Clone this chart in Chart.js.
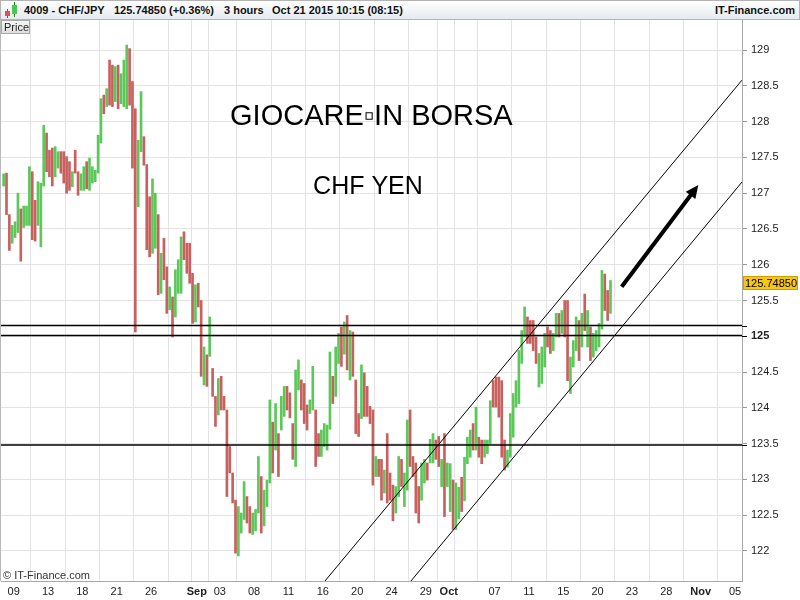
<!DOCTYPE html>
<html><head><meta charset="utf-8">
<script src="https://cdn.jsdelivr.net/npm/chart.js@4"></script>
<style>
html,body{margin:0;padding:0;background:#fff;}
#wrap{position:relative;width:800px;height:600px;overflow:hidden;font-family:"Liberation Sans",Arial,sans-serif;}
canvas{position:absolute;left:0;top:0;}
#hdr{position:absolute;left:0;top:0;width:798px;height:18px;border:1px solid #b4b4b4;background:linear-gradient(#ffffff,#e6eaee);}
#hdr span{position:absolute;top:3px;font-weight:bold;font-size:11px;color:#111;white-space:nowrap;}
.cdl{position:absolute;}
#price{position:absolute;left:1px;top:20px;width:25px;height:12px;border:1px solid #a8a8a8;background:linear-gradient(#f6f6f6,#dedede);font-size:11px;line-height:12px;color:#222;padding-left:2px;}
#copy{position:absolute;left:3px;top:569px;font-size:11px;color:#333;}
#lb{position:absolute;left:0;top:20px;width:1px;height:561px;background:#b8b8b8;}
</style></head>
<body><div id="wrap">
<canvas id="c" width="800" height="600"></canvas>
<div id="lb"></div>
<div id="hdr">
  <div class="cdl" style="left:6px;top:8px;width:1px;height:9px;background:#b33;"></div>
  <div class="cdl" style="left:4px;top:10px;width:5px;height:5px;background:#e05050;"></div>
  <div class="cdl" style="left:13px;top:1px;width:1px;height:15px;background:#282;"></div>
  <div class="cdl" style="left:11px;top:4px;width:5px;height:9px;background:#4cc84c;"></div>
  <span style="left:23px">4009 - CHF/JPY</span>
  <span style="left:113px">125.74850 (+0.36%)</span>
  <span style="left:223px">3 hours</span>
  <span style="left:271px">Oct 21 2015 10:15 (08:15)</span>
  <span style="right:4px">IT-Finance.com</span>
</div>
<div id="price">Price</div>
<div id="copy">© IT-Finance.com</div>
</div>
<script>
// ---- data ----
const barsPerDay = 4;          // 6-hour bars, trading-day units on x
const firstDay = -1;           // Fri Aug 7 (day 0 = Mon Aug 10)
const highs = [
127.27,127.28,126.70,126.55,126.60,127.00,126.78,126.82,126.82,127.37,
127.30,126.90,127.16,127.14,127.95,127.84,127.60,127.63,127.65,127.58,
127.58,127.58,127.51,127.44,127.30,127.60,127.30,127.27,127.37,127.44,
127.49,127.37,127.32,127.81,128.32,128.37,128.46,128.86,128.79,128.77,
128.79,128.67,128.86,129.07,129.02,128.56,128.18,127.74,128.42,127.79,
127.40,126.95,127.20,127.00,126.70,126.16,126.37,125.97,125.69,125.55,
125.93,126.07,126.39,126.46,126.30,126.30,125.88,125.72,125.74,125.50,
124.85,124.74,125.27,124.55,124.16,124.41,124.44,124.16,123.97,123.46,
123.09,122.71,122.62,122.53,122.97,122.76,122.62,122.53,122.58,123.32,
123.04,122.85,122.99,124.11,123.80,124.06,123.64,124.16,124.30,124.30,
124.21,123.78,124.53,124.67,124.39,124.34,124.04,124.11,124.58,123.97,
123.64,123.69,123.78,123.76,124.78,124.44,124.85,125.04,125.13,125.20,
125.29,125.08,125.06,124.39,123.92,124.60,124.49,124.30,124.02,123.97,
123.32,123.28,123.28,123.13,123.64,123.09,122.92,122.90,123.32,123.28,
123.09,123.83,123.97,123.32,123.23,122.90,123.23,123.28,123.23,123.56,
123.64,123.55,123.60,123.28,123.64,123.23,123.22,122.99,122.95,122.89,
123.03,123.31,123.59,123.69,123.78,124.01,123.59,123.55,123.55,123.55,
124.10,124.38,124.43,124.43,124.38,123.55,123.41,123.92,124.20,124.38,
124.80,125.08,125.41,125.27,125.22,125.22,124.99,124.76,124.85,125.04,
125.13,125.08,125.04,125.32,125.32,125.36,125.50,125.50,124.71,124.94,
125.27,125.22,125.32,125.59,125.36,125.13,125.04,125.08,125.18,125.92,
125.87,125.64,125.78];
const lows = [
127.10,126.70,126.20,126.30,126.38,126.45,126.05,126.52,126.55,126.55,
126.35,126.33,126.55,126.25,127.10,127.30,127.23,127.10,127.23,127.35,
127.28,127.14,127.00,127.04,127.09,127.28,126.97,127.04,127.04,127.06,
127.04,127.14,127.16,127.28,127.70,128.11,128.21,128.23,128.21,128.28,
128.18,128.25,128.21,128.18,128.23,127.35,125.06,126.81,127.58,127.39,
126.21,126.11,126.16,126.23,125.58,125.60,125.79,125.32,125.37,124.99,
125.27,125.60,125.60,126.07,125.88,125.74,125.18,125.20,125.41,124.44,
124.32,124.30,124.72,124.16,123.74,123.90,123.97,123.97,122.76,123.09,
122.67,121.97,121.93,122.25,122.44,122.39,122.25,122.23,122.28,122.53,
122.25,122.35,122.62,122.95,123.09,123.41,123.04,123.69,123.88,123.97,
123.86,123.28,123.18,124.25,123.97,123.78,123.69,123.92,123.97,123.18,
123.32,123.32,123.46,123.41,123.70,124.06,124.16,124.62,124.58,124.75,
124.53,124.39,124.44,123.64,123.60,123.85,123.88,123.88,123.78,122.92,
123.04,123.04,122.71,122.81,122.67,122.71,122.42,122.53,122.76,122.90,
122.62,122.85,123.18,123.04,122.53,122.39,122.71,122.95,122.99,123.23,
123.23,123.28,123.18,122.90,122.48,122.90,122.55,122.30,122.30,122.45,
122.55,122.70,123.22,123.31,123.41,123.41,123.31,123.22,123.31,123.36,
123.50,124.01,124.01,123.87,123.31,123.13,123.17,123.31,123.59,124.01,
124.06,124.62,124.99,124.90,124.90,124.80,124.62,124.29,124.34,124.57,
124.85,124.76,124.80,124.99,124.99,125.04,124.99,124.38,124.20,124.57,
124.80,124.66,124.85,125.08,124.85,124.66,124.71,124.80,124.85,125.10,
125.36,125.22,125.32];
const barDirection =
 "udduuuduuu"+"dduuuddduu"+"ddddudduud"+"uuuuududdu"+"duuuddduud"+
 "dduududdud"+"uuuddddudd"+"ududdudddd"+"dduuudduuu"+"duuududuud"+
 "dduuddduud"+"duuuuduudu"+"dudddudddd"+"udduddduud"+"uudddduudu"+
 "udduduuduu"+"duuududduu"+"uddddduuuu"+"uuudddduuu"+"dduududduu"+
 "udududuuuu"+"ddu";
const levels = [125.15, 125.01, 123.48];
const upperChannel = [[27.19, 121.58], [63.61, 128.58]];
const lowerChannel = [[34.70, 121.58], [63.61, 127.156]];
const trendArrow = [[53.10, 125.693], [59.80, 127.114]];
const lastPrice = 125.7485;
const lastPriceLabel = "125.74850";
const boldPrice = 125;
const priceTicks = [122,122.5,123,123.5,124,124.5,125,125.5,126,126.5,127,127.5,128,128.5,129];
const tickDays   = [0,3,6,9,12,15,16,18,21,24,27,30,33,36,38,39,42,45,48,51,54,57,60,63];
const tickLabels = ['09','13','18','21','26','','Sep','03','08','11','16','20','24','29','Oct','','07','11','15','20','23','28','Nov','05'];
const monthLabels = ['Sep','Oct','Nov'];
const notes = [
  {text: 'GIOCARE\u25ABIN BORSA', x: 18.9, y: 127.952, size: 29},
  {text: 'CHF YEN', x: 26.15, y: 126.988, size: 25}
];
const xRange = [-1.105, 63.61];
const yRange = [121.58, 129.42];

// ---- chart ----
const FONT = '"Liberation Sans", Arial, sans-serif';
const UP = '#5cc85a', DOWN = '#c8605e';
const barData = highs.map((h, i) => ({x: firstDay + (i + 0.5) / barsPerDay, y: [lows[i], h]}));
const barColors = highs.map((h, i) => barDirection[i] === 'd' ? DOWN : UP);
const lineDs = (pts, w) => ({type: 'line', data: pts.map(p => ({x: p[0], y: p[1]})),
  borderColor: '#000', borderWidth: w, pointRadius: 0, fill: false, tension: 0, order: 0});

const datasets = [
  {type: 'bar', data: barData, backgroundColor: barColors, borderWidth: 0, barThickness: 2, order: 2},
  ...levels.map(v => lineDs([[xRange[0], v], [xRange[1], v]], 1.4)),
  lineDs(upperChannel, 1),
  lineDs(lowerChannel, 1)
];

const overlay = {
  id: 'overlay',
  afterDatasetsDraw(chart) {
    const {ctx, chartArea: a} = chart;
    const x = chart.scales.x, y = chart.scales.y;
    ctx.save();
    // level marks on the price axis
    ctx.strokeStyle = '#000'; ctx.lineWidth = 1;
    levels.forEach(v => {
      const py = Math.round(y.getPixelForValue(v)) + 0.5;
      ctx.beginPath(); ctx.moveTo(a.right, py); ctx.lineTo(a.right + 5, py); ctx.stroke();
    });
    // arrow
    const x0 = x.getPixelForValue(trendArrow[0][0]), y0 = y.getPixelForValue(trendArrow[0][1]);
    const x1 = x.getPixelForValue(trendArrow[1][0]), y1 = y.getPixelForValue(trendArrow[1][1]);
    const ang = Math.atan2(y1 - y0, x1 - x0), head = 13, hw = 6;
    const bx = x1 - head * Math.cos(ang), by = y1 - head * Math.sin(ang);
    ctx.lineWidth = 4; ctx.lineCap = 'butt';
    ctx.beginPath(); ctx.moveTo(x0, y0); ctx.lineTo(bx + 2 * Math.cos(ang), by + 2 * Math.sin(ang)); ctx.stroke();
    ctx.fillStyle = '#000';
    ctx.beginPath(); ctx.moveTo(x1, y1);
    ctx.lineTo(bx + hw * Math.sin(ang), by - hw * Math.cos(ang));
    ctx.lineTo(bx - hw * Math.sin(ang), by + hw * Math.cos(ang));
    ctx.closePath(); ctx.fill();
    // text notes
    ctx.textAlign = 'left'; ctx.textBaseline = 'alphabetic';
    notes.forEach(n => {
      ctx.font = n.size + 'px ' + FONT;
      ctx.fillText(n.text, x.getPixelForValue(n.x), y.getPixelForValue(n.y));
    });
    // last price tag
    const py = Math.round(y.getPixelForValue(lastPrice));
    ctx.fillStyle = '#f5c518'; ctx.strokeStyle = '#c9a000'; ctx.lineWidth = 1;
    ctx.fillRect(a.right + 1, py - 7, 55, 14);
    ctx.strokeRect(a.right + 1.5, py - 6.5, 54, 13);
    ctx.fillStyle = '#000'; ctx.font = '11px ' + FONT; ctx.textBaseline = 'middle';
    ctx.fillText(lastPriceLabel, a.right + 3, py + 0.5);
    ctx.restore();
  }
};

new Chart(document.getElementById('c'), {
  type: 'bar',
  data: {datasets},
  plugins: [overlay],
  options: {
    responsive: false, animation: false, devicePixelRatio: 1, events: [],
    layout: {padding: {top: 20, left: 1, right: 0, bottom: 0}},
    plugins: {legend: {display: false}, tooltip: {enabled: false}},
    scales: {
      x: {
        type: 'linear', min: xRange[0], max: xRange[1], offset: false,
        grid: {color: '#e3e3e3', drawTicks: false},
        border: {color: '#a8a8a8'},
        afterBuildTicks: s => { s.ticks = tickDays.map(v => ({value: v})); },
        afterFit: s => { s.height = 19; },
        ticks: {
          autoSkip: false, maxRotation: 0, padding: 4, color: '#222',
          font: c => ({family: FONT, size: 11,
            weight: (c.tick && monthLabels.includes(tickLabels[tickDays.indexOf(c.tick.value)])) ? 'bold' : 'normal'}),
          callback: v => { const i = tickDays.indexOf(v); return i >= 0 ? tickLabels[i] : ''; }
        }
      },
      y: {
        type: 'linear', position: 'right', min: yRange[0], max: yRange[1],
        grid: {color: '#e3e3e3', tickLength: 5, tickColor: '#999'},
        border: {color: '#a8a8a8'},
        afterBuildTicks: s => { s.ticks = priceTicks.map(v => ({value: v})); },
        afterFit: s => { s.width = 58; },
        ticks: {
          padding: 4, color: '#222',
          font: c => ({family: FONT, size: 11, weight: (c.tick && c.tick.value === boldPrice) ? 'bold' : 'normal'}),
          callback: v => String(v)
        }
      }
    }
  }
});
</script>
</body></html>
